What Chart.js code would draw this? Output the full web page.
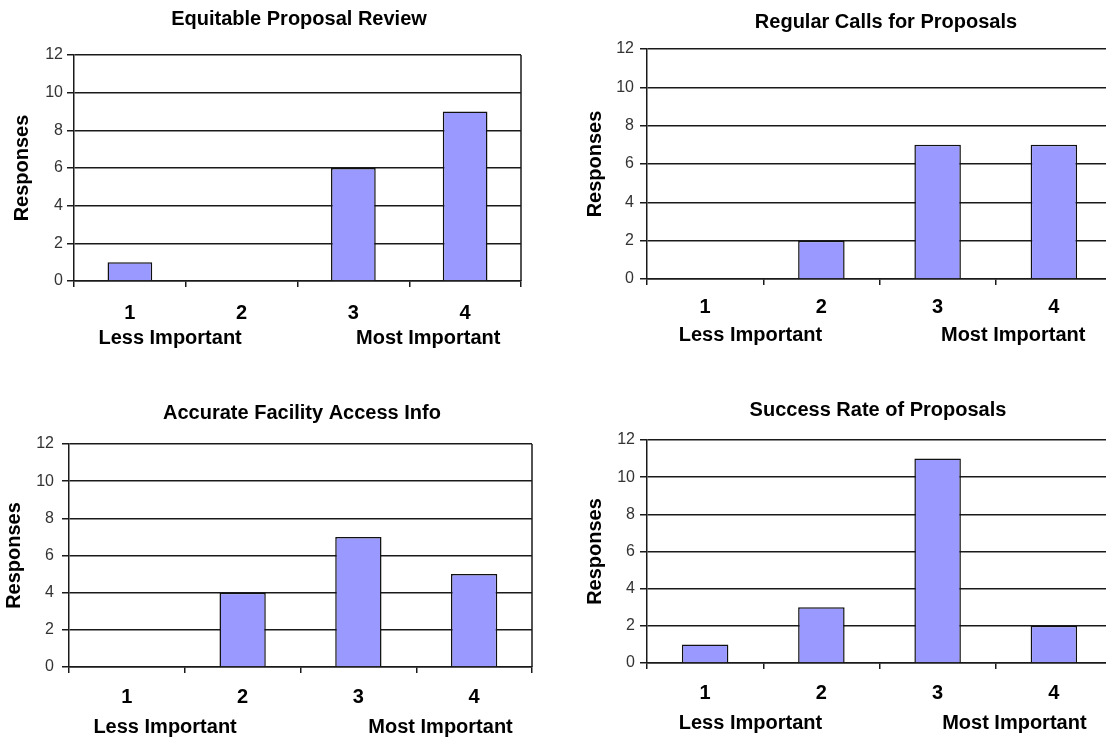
<!DOCTYPE html>
<html>
<head>
<meta charset="utf-8">
<title>Survey responses by importance</title>
<script src="https://cdn.jsdelivr.net/npm/chart.js@4/dist/chart.umd.min.js"></script>
<style>
  html, body { margin: 0; padding: 0; background: #fff; overflow: hidden; width: 1106px; height: 737px; }
  canvas { position: absolute; }
</style>
</head>
<body>
<canvas id="c1" width="560" height="368" style="left:0;top:0"></canvas>
<canvas id="c2" width="600" height="368" style="left:560px;top:0"></canvas>
<canvas id="c3" width="560" height="369" style="left:0;top:368px"></canvas>
<canvas id="c4" width="600" height="369" style="left:560px;top:368px"></canvas>
<script>
// Importance rating (1 = less important, 4 = most important)
const categories = ['1', '2', '3', '4'];
const scaleCaptions = ['Less Important', 'Most Important'];
const yTicks = [0, 2, 4, 6, 8, 10, 12];

// Number of responses per rating
const equitableReview = [1, 0, 6, 9];
const regularCalls = [0, 2, 7, 7];
const facilityAccessInfo = [0, 4, 7, 5];
const successRate = [1, 3, 11, 2];

const titles = [
  'Equitable Proposal Review',
  'Regular Calls for Proposals',
  'Accurate Facility Access Info',
  'Success Rate of Proposals'
];
const seriesList = [equitableReview, regularCalls, facilityAccessInfo, successRate];

const FONT = '"Liberation Sans", Arial, Helvetica, sans-serif';
const LINE = '#1a1a1a';
const BAR_FILL = '#9999ff';

// Panel geometry: layout padding, axis box sizes, and text anchors
const panels = [
  { id: 'c1', pad: { left: 10, right: 39, top: 55, bottom: 47 }, yWidth: 64, yPad: 4, xPad: 14,
    titleX: 299, titleY: 19, captionY: 338, captionAt: [0.36, 2.67] },
  { id: 'c2', pad: { left: 23, right: 48, top: 49, bottom: 49 }, yWidth: 64, yPad: 6, xPad: 10,
    titleX: 326, titleY: 22, captionY: 335, captionAt: [0.39, 2.65] },
  { id: 'c3', pad: { left: 2, right: 28, top: 76, bottom: 30 }, yWidth: 67, yPad: 8, xPad: 12,
    titleX: 302, titleY: 45, captionY: 359, captionAt: [0.33, 2.71] },
  { id: 'c4', pad: { left: 23, right: 48, top: 72, bottom: 34 }, yWidth: 64, yPad: 5, xPad: 12,
    titleX: 318, titleY: 42, captionY: 355, captionAt: [0.39, 2.66] }
];

// Draws the panel title, the plot frame's right edge and the rating captions
const panelText = {
  id: 'panelText',
  afterDraw(chart, args, opts) {
    const { ctx, chartArea, scales } = chart;
    ctx.save();
    ctx.strokeStyle = LINE;
    ctx.lineWidth = 1.5;
    ctx.beginPath();
    ctx.moveTo(chartArea.right, chartArea.top);
    ctx.lineTo(chartArea.right, chartArea.bottom);
    ctx.stroke();
    ctx.fillStyle = '#000';
    ctx.font = 'bold 20px ' + FONT;
    ctx.textAlign = 'center';
    ctx.textBaseline = 'middle';
    ctx.fillText(opts.title, opts.titleX, opts.titleY);
    opts.captions.forEach((text, i) => {
      ctx.fillText(text, scales.x.getPixelForValue(opts.captionAt[i]), opts.captionY);
    });
    ctx.restore();
  }
};

panels.forEach((p, i) => {
  new Chart(document.getElementById(p.id), {
    type: 'bar',
    data: {
      labels: categories,
      datasets: [{
        label: 'Responses',
        data: seriesList[i],
        backgroundColor: BAR_FILL,
        borderColor: '#111',
        borderWidth: 1.5,
        barPercentage: 0.4,
        categoryPercentage: 1.0
      }]
    },
    options: {
      responsive: false,
      animation: false,
      layout: { padding: p.pad },
      plugins: {
        legend: { display: false },
        title: { display: false },
        tooltip: { enabled: false },
        panelText: {
          title: titles[i],
          titleX: p.titleX,
          titleY: p.titleY,
          captions: scaleCaptions,
          captionAt: p.captionAt,
          captionY: p.captionY
        }
      },
      scales: {
        x: {
          grid: {
            offset: true,
            drawOnChartArea: false,
            drawTicks: true,
            tickLength: 6,
            color: LINE,
            lineWidth: 1.5
          },
          border: { display: true, color: LINE, width: 1.5 },
          ticks: {
            color: '#000',
            padding: p.xPad,
            font: { family: FONT, size: 20, weight: 'bold' }
          },
          afterFit(scale) { scale.height = 40; }
        },
        y: {
          min: 0,
          max: 12,
          afterBuildTicks(scale) { scale.ticks = yTicks.map(v => ({ value: v })); },
          grid: {
            color: LINE,
            lineWidth: 1.5,
            drawTicks: true,
            tickLength: 7
          },
          border: { display: true, color: LINE, width: 1.5 },
          ticks: {
            color: '#333',
            padding: p.yPad,
            font: { family: FONT, size: 16 }
          },
          title: {
            display: true,
            text: 'Responses',
            color: '#000',
            padding: { top: 0, bottom: 0 },
            font: { family: FONT, size: 20, weight: 'bold' }
          },
          afterFit(scale) { scale.width = p.yWidth; }
        }
      }
    },
    plugins: [panelText]
  });
});
</script>
</body>
</html>
